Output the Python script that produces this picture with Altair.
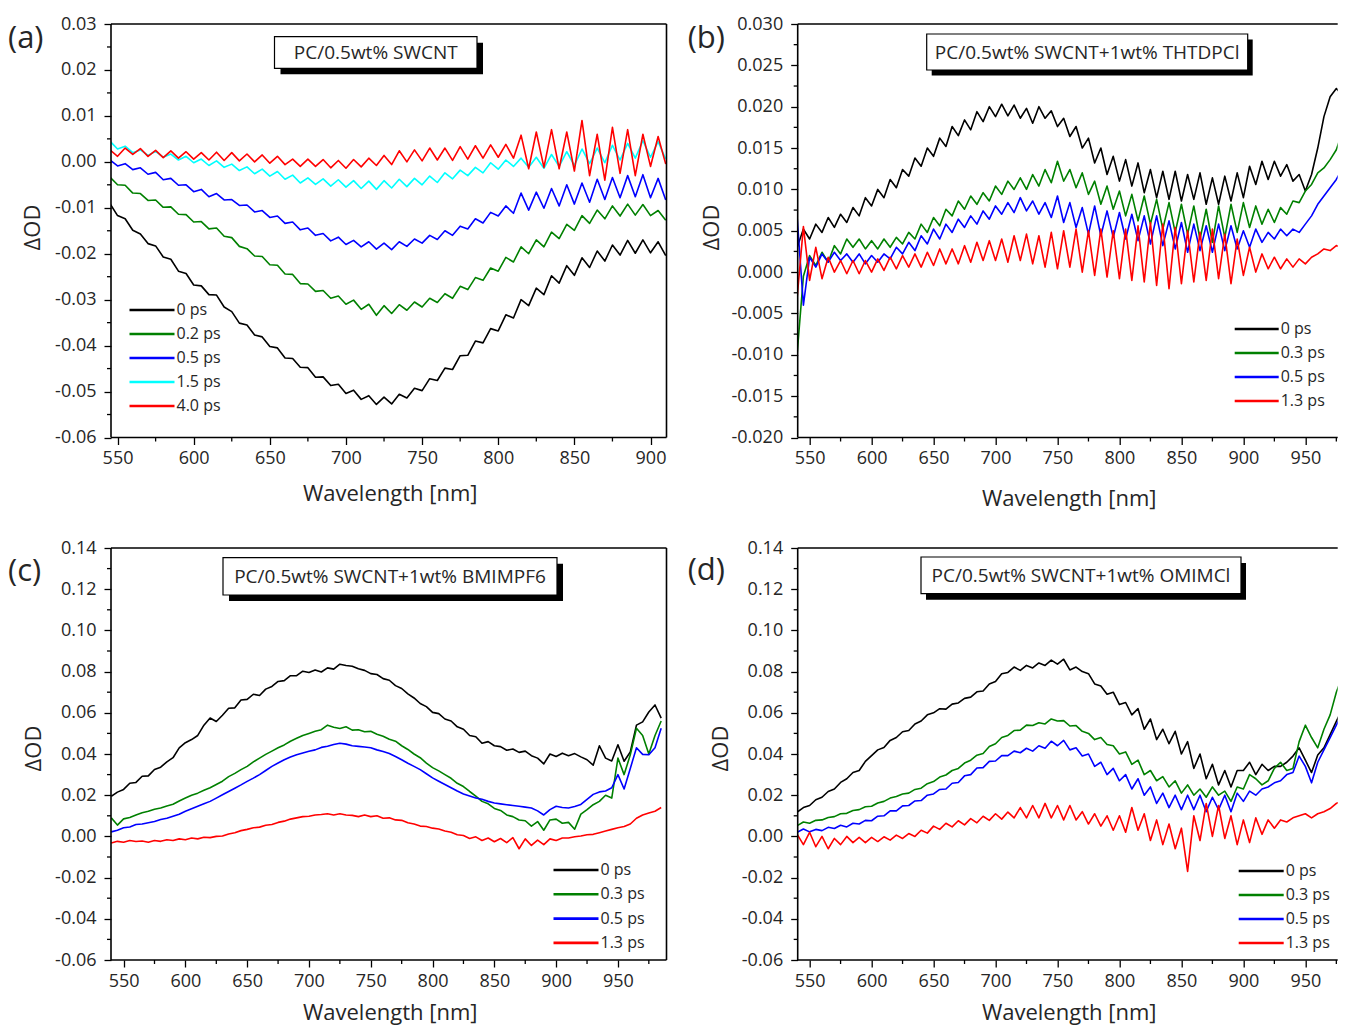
import altair as alt
import pandas as pd

FONT = "Open Sans"
TXT = "#262626"

# ---------------- Panel (a): PC/0.5wt% SWCNT ----------------
wl_a = list(range(545, 911, 5))
names_a = ["0 ps", "0.2 ps", "0.5 ps", "1.5 ps", "4.0 ps"]
colors_a = ["#000000", "#008000", "#0000ff", "#00ffff", "#ff0000"]
a_0ps = [-0.0091, -0.0117, -0.0124, -0.0149, -0.0157, -0.0178, -0.0183, -0.0207, -0.0212, -0.0238,
         -0.0243, -0.0268, -0.0270, -0.0289, -0.0290, -0.0316, -0.0326, -0.0351, -0.0355, -0.0377,
         -0.0381, -0.0402, -0.0405, -0.0427, -0.0428, -0.0447, -0.0448, -0.0469, -0.0468, -0.0487,
         -0.0484, -0.0504, -0.0497, -0.0517, -0.0509, -0.0528, -0.0512, -0.0527, -0.0506, -0.0514,
         -0.0493, -0.0498, -0.0472, -0.0476, -0.0449, -0.0452, -0.0422, -0.0421, -0.0390, -0.0394,
         -0.0363, -0.0368, -0.0333, -0.0340, -0.0300, -0.0313, -0.0275, -0.0289, -0.0248, -0.0264,
         -0.0226, -0.0247, -0.0209, -0.0230, -0.0194, -0.0216, -0.0181, -0.0203, -0.0171, -0.0199,
         -0.0170, -0.0198, -0.0174, -0.0204]
a_02ps = [-0.0033, -0.0050, -0.0051, -0.0068, -0.0069, -0.0084, -0.0083, -0.0099, -0.0098, -0.0114,
          -0.0115, -0.0131, -0.0130, -0.0146, -0.0144, -0.0162, -0.0165, -0.0184, -0.0189, -0.0205,
          -0.0206, -0.0224, -0.0225, -0.0244, -0.0245, -0.0265, -0.0266, -0.0282, -0.0280, -0.0297,
          -0.0292, -0.0310, -0.0301, -0.0321, -0.0310, -0.0334, -0.0313, -0.0330, -0.0311, -0.0323,
          -0.0305, -0.0316, -0.0297, -0.0306, -0.0287, -0.0297, -0.0271, -0.0278, -0.0252, -0.0258,
          -0.0231, -0.0238, -0.0208, -0.0218, -0.0185, -0.0200, -0.0170, -0.0185, -0.0153, -0.0167,
          -0.0136, -0.0149, -0.0117, -0.0134, -0.0105, -0.0124, -0.0096, -0.0118, -0.0092, -0.0116,
          -0.0093, -0.0117, -0.0106, -0.0127]
a_05ps = [0.0004, -0.0009, -0.0004, -0.0017, -0.0013, -0.0027, -0.0023, -0.0039, -0.0036, -0.0051,
          -0.0050, -0.0065, -0.0060, -0.0076, -0.0069, -0.0083, -0.0082, -0.0095, -0.0094, -0.0109,
          -0.0106, -0.0121, -0.0118, -0.0134, -0.0131, -0.0148, -0.0144, -0.0160, -0.0156, -0.0172,
          -0.0164, -0.0180, -0.0171, -0.0185, -0.0174, -0.0190, -0.0177, -0.0191, -0.0174, -0.0184,
          -0.0168, -0.0177, -0.0160, -0.0169, -0.0150, -0.0160, -0.0140, -0.0146, -0.0124, -0.0133,
          -0.0110, -0.0118, -0.0096, -0.0112, -0.0068, -0.0105, -0.0066, -0.0101, -0.0058, -0.0096,
          -0.0050, -0.0092, -0.0046, -0.0088, -0.0038, -0.0082, -0.0034, -0.0078, -0.0030, -0.0076,
          -0.0028, -0.0078, -0.0036, -0.0083]
a_15ps = [0.0045, 0.0028, 0.0034, 0.0020, 0.0026, 0.0014, 0.0023, 0.0010, 0.0017, 0.0004,
          0.0012, -0.0002, 0.0006, -0.0008, 0.0002, -0.0012, -0.0005, -0.0019, -0.0011, -0.0026,
          -0.0016, -0.0031, -0.0021, -0.0038, -0.0029, -0.0046, -0.0035, -0.0049, -0.0037, -0.0053,
          -0.0039, -0.0055, -0.0041, -0.0058, -0.0042, -0.0060, -0.0041, -0.0057, -0.0038, -0.0054,
          -0.0036, -0.0050, -0.0031, -0.0045, -0.0024, -0.0037, -0.0018, -0.0030, -0.0012, -0.0024,
          -0.0002, -0.0016, 0.0004, -0.0010, 0.0008, -0.0012, 0.0010, -0.0014, 0.0016, -0.0010,
          0.0022, -0.0008, 0.0028, -0.0004, 0.0030, -0.0002, 0.0036, 0.0004, 0.0040, 0.0008,
          0.0046, 0.0010, 0.0044, 0.0006]
a_40ps = [0.0026, 0.0012, 0.0030, 0.0016, 0.0029, 0.0012, 0.0025, 0.0009, 0.0024, 0.0008,
          0.0022, 0.0006, 0.0020, 0.0004, 0.0021, 0.0003, 0.0020, 0.0002, 0.0017, 0.0000,
          0.0015, -0.0003, 0.0012, -0.0006, 0.0006, -0.0010, 0.0006, -0.0010, 0.0005, -0.0013,
          0.0003, -0.0014, 0.0005, -0.0011, 0.0008, -0.0008, 0.0014, -0.0006, 0.0024, 0.0000,
          0.0026, 0.0002, 0.0030, 0.0004, 0.0030, 0.0003, 0.0033, 0.0006, 0.0035, 0.0008,
          0.0037, 0.0010, 0.0038, 0.0008, 0.0058, -0.0015, 0.0065, -0.0012, 0.0070, -0.0015,
          0.0065, -0.0020, 0.0090, -0.0030, 0.0060, -0.0040, 0.0075, -0.0025, 0.0070, -0.0030,
          0.0060, -0.0010, 0.0055, -0.0005]

# ---------------- Panels (b), (c), (d) ----------------
wl_bcd = list(range(540, 986, 5))
names_bcd = ["0 ps", "0.3 ps", "0.5 ps", "1.3 ps"]
colors_bcd = ["#000000", "#008000", "#0000ff", "#ff0000"]

b_0ps = [0.0030, 0.0052, 0.0040, 0.0058, 0.0048, 0.0066, 0.0054, 0.0070, 0.0060, 0.0078,
         0.0068, 0.0090, 0.0080, 0.0100, 0.0090, 0.0112, 0.0102, 0.0124, 0.0116, 0.0138,
         0.0128, 0.0150, 0.0140, 0.0162, 0.0152, 0.0176, 0.0165, 0.0184, 0.0172, 0.0194,
         0.0182, 0.0200, 0.0188, 0.0203, 0.0189, 0.0202, 0.0186, 0.0198, 0.0180, 0.0200,
         0.0186, 0.0195, 0.0176, 0.0186, 0.0164, 0.0176, 0.0150, 0.0162, 0.0132, 0.0150,
         0.0118, 0.0140, 0.0110, 0.0136, 0.0104, 0.0132, 0.0096, 0.0124, 0.0090, 0.0122,
         0.0088, 0.0122, 0.0086, 0.0118, 0.0088, 0.0120, 0.0082, 0.0114, 0.0082, 0.0116,
         0.0086, 0.0120, 0.0090, 0.0128, 0.0106, 0.0134, 0.0112, 0.0134, 0.0116, 0.0130,
         0.0110, 0.0118, 0.0098, 0.0118, 0.0150, 0.0188, 0.0212, 0.0222, 0.0214, 0.0240]
b_03ps = [-0.0098, -0.0005, 0.0020, 0.0008, 0.0024, 0.0012, 0.0032, 0.0022, 0.0040, 0.0030,
          0.0040, 0.0028, 0.0038, 0.0028, 0.0040, 0.0030, 0.0042, 0.0034, 0.0048, 0.0040,
          0.0058, 0.0048, 0.0066, 0.0056, 0.0076, 0.0068, 0.0086, 0.0076, 0.0092, 0.0082,
          0.0096, 0.0086, 0.0104, 0.0094, 0.0110, 0.0100, 0.0114, 0.0100, 0.0118, 0.0104,
          0.0124, 0.0108, 0.0134, 0.0110, 0.0124, 0.0102, 0.0120, 0.0094, 0.0110, 0.0082,
          0.0104, 0.0076, 0.0098, 0.0068, 0.0094, 0.0062, 0.0092, 0.0058, 0.0088, 0.0052,
          0.0084, 0.0048, 0.0082, 0.0046, 0.0080, 0.0040, 0.0076, 0.0036, 0.0080, 0.0042,
          0.0082, 0.0048, 0.0084, 0.0054, 0.0080, 0.0058, 0.0076, 0.0060, 0.0078, 0.0070,
          0.0086, 0.0084, 0.0098, 0.0106, 0.0120, 0.0126, 0.0136, 0.0148, 0.0170, 0.0215]
b_05ps = [0.0065, -0.0040, 0.0018, 0.0006, 0.0022, 0.0012, 0.0024, 0.0014, 0.0022, 0.0012,
          0.0022, 0.0010, 0.0020, 0.0012, 0.0022, 0.0016, 0.0030, 0.0022, 0.0036, 0.0026,
          0.0044, 0.0034, 0.0052, 0.0040, 0.0058, 0.0048, 0.0064, 0.0054, 0.0068, 0.0058,
          0.0074, 0.0064, 0.0080, 0.0070, 0.0084, 0.0072, 0.0090, 0.0074, 0.0086, 0.0070,
          0.0084, 0.0066, 0.0092, 0.0060, 0.0084, 0.0054, 0.0078, 0.0046, 0.0080, 0.0044,
          0.0074, 0.0042, 0.0072, 0.0040, 0.0070, 0.0038, 0.0068, 0.0034, 0.0068, 0.0032,
          0.0062, 0.0028, 0.0060, 0.0024, 0.0058, 0.0026, 0.0056, 0.0024, 0.0058, 0.0026,
          0.0056, 0.0028, 0.0050, 0.0030, 0.0052, 0.0036, 0.0048, 0.0040, 0.0052, 0.0044,
          0.0052, 0.0048, 0.0058, 0.0068, 0.0082, 0.0092, 0.0102, 0.0112, 0.0126, 0.0155]
b_13ps = [-0.0030, 0.0055, -0.0010, 0.0030, -0.0008, 0.0018, 0.0000, 0.0014, -0.0002, 0.0014,
          -0.0002, 0.0014, 0.0000, 0.0016, 0.0002, 0.0018, 0.0004, 0.0020, 0.0006, 0.0022,
          0.0006, 0.0024, 0.0008, 0.0028, 0.0010, 0.0028, 0.0010, 0.0032, 0.0012, 0.0036,
          0.0014, 0.0038, 0.0014, 0.0040, 0.0012, 0.0044, 0.0014, 0.0046, 0.0010, 0.0044,
          0.0006, 0.0048, 0.0004, 0.0050, 0.0006, 0.0052, 0.0000, 0.0050, -0.0004, 0.0052,
          -0.0006, 0.0050, -0.0008, 0.0052, -0.0010, 0.0056, -0.0012, 0.0060, -0.0016, 0.0058,
          -0.0020, 0.0054, -0.0014, 0.0050, -0.0012, 0.0048, -0.0010, 0.0052, -0.0008, 0.0046,
          -0.0014, 0.0040, -0.0004, 0.0030, 0.0000, 0.0022, 0.0004, 0.0018, 0.0004, 0.0016,
          0.0006, 0.0016, 0.0010, 0.0018, 0.0022, 0.0028, 0.0026, 0.0032, 0.0030, 0.0034]

c_0ps = [0.0195, 0.0215, 0.0228, 0.0258, 0.0262, 0.0292, 0.0294, 0.0325, 0.0336, 0.0362,
         0.0382, 0.0430, 0.0455, 0.0470, 0.0490, 0.0540, 0.0575, 0.0558, 0.0588, 0.0622,
         0.0624, 0.0662, 0.0665, 0.0690, 0.0684, 0.0715, 0.0728, 0.0752, 0.0756, 0.0780,
         0.0780, 0.0802, 0.0796, 0.0808, 0.0798, 0.0818, 0.0812, 0.0836, 0.0830, 0.0826,
         0.0814, 0.0806, 0.0790, 0.0786, 0.0766, 0.0758, 0.0732, 0.0718, 0.0692, 0.0672,
         0.0645, 0.0630, 0.0602, 0.0596, 0.0570, 0.0560, 0.0532, 0.0520, 0.0490, 0.0484,
         0.0452, 0.0460, 0.0440, 0.0436, 0.0418, 0.0424, 0.0408, 0.0414, 0.0392, 0.0380,
         0.0352, 0.0400, 0.0388, 0.0404, 0.0392, 0.0402, 0.0386, 0.0372, 0.0346, 0.0440,
         0.0380, 0.0366, 0.0445, 0.0365, 0.0410, 0.0540, 0.0556, 0.0604, 0.0638, 0.0574]
c_03ps = [0.0090, 0.0055, 0.0085, 0.0092, 0.0104, 0.0115, 0.0122, 0.0132, 0.0138, 0.0148,
          0.0156, 0.0172, 0.0186, 0.0200, 0.0210, 0.0224, 0.0236, 0.0252, 0.0268, 0.0290,
          0.0306, 0.0324, 0.0340, 0.0362, 0.0380, 0.0398, 0.0414, 0.0430, 0.0444, 0.0462,
          0.0476, 0.0490, 0.0500, 0.0510, 0.0518, 0.0540, 0.0530, 0.0524, 0.0532, 0.0516,
          0.0518, 0.0508, 0.0510, 0.0496, 0.0486, 0.0472, 0.0462, 0.0440, 0.0422, 0.0400,
          0.0382, 0.0356, 0.0334, 0.0318, 0.0300, 0.0282, 0.0258, 0.0242, 0.0218, 0.0196,
          0.0170, 0.0158, 0.0136, 0.0126, 0.0104, 0.0096, 0.0080, 0.0076, 0.0050, 0.0072,
          0.0030, 0.0080, 0.0084, 0.0064, 0.0068, 0.0035, 0.0108, 0.0130, 0.0154, 0.0170,
          0.0200, 0.0186, 0.0380, 0.0300, 0.0396, 0.0525, 0.0490, 0.0400, 0.0490, 0.0560]
c_05ps = [0.0022, 0.0030, 0.0042, 0.0046, 0.0058, 0.0060, 0.0066, 0.0072, 0.0082, 0.0088,
          0.0098, 0.0108, 0.0122, 0.0134, 0.0146, 0.0158, 0.0170, 0.0186, 0.0202, 0.0218,
          0.0234, 0.0250, 0.0267, 0.0283, 0.0300, 0.0320, 0.0340, 0.0356, 0.0372, 0.0385,
          0.0396, 0.0405, 0.0413, 0.0420, 0.0432, 0.0438, 0.0446, 0.0452, 0.0448, 0.0440,
          0.0437, 0.0434, 0.0430, 0.0420, 0.0412, 0.0402, 0.0388, 0.0372, 0.0355, 0.0340,
          0.0324, 0.0304, 0.0284, 0.0268, 0.0252, 0.0236, 0.0220, 0.0206, 0.0196, 0.0186,
          0.0180, 0.0170, 0.0162, 0.0158, 0.0154, 0.0150, 0.0146, 0.0142, 0.0138, 0.0124,
          0.0104, 0.0130, 0.0146, 0.0140, 0.0138, 0.0145, 0.0155, 0.0180, 0.0204, 0.0216,
          0.0220, 0.0236, 0.0300, 0.0230, 0.0330, 0.0430, 0.0398, 0.0396, 0.0430, 0.0525]
c_13ps = [-0.0032, -0.0024, -0.0028, -0.0020, -0.0025, -0.0022, -0.0028, -0.0020, -0.0024, -0.0016,
          -0.0020, -0.0012, -0.0016, -0.0008, -0.0012, -0.0004, -0.0006, 0.0000, 0.0002, 0.0012,
          0.0018, 0.0028, 0.0034, 0.0042, 0.0045, 0.0054, 0.0058, 0.0068, 0.0074, 0.0084,
          0.0090, 0.0096, 0.0098, 0.0104, 0.0106, 0.0110, 0.0104, 0.0110, 0.0104, 0.0102,
          0.0096, 0.0104, 0.0096, 0.0100, 0.0088, 0.0090, 0.0080, 0.0078, 0.0066, 0.0060,
          0.0050, 0.0048, 0.0040, 0.0036, 0.0026, 0.0020, 0.0008, 0.0004, -0.0010, -0.0002,
          -0.0020, -0.0008, -0.0026, -0.0010, -0.0030, -0.0006, -0.0060, -0.0012, -0.0044, -0.0018,
          -0.0040, -0.0012, -0.0020, -0.0008, -0.0008, -0.0002, 0.0002, 0.0008, 0.0010, 0.0018,
          0.0026, 0.0034, 0.0042, 0.0048, 0.0060, 0.0088, 0.0104, 0.0114, 0.0122, 0.0140]

d_0ps = [0.0118, 0.0140, 0.0150, 0.0178, 0.0190, 0.0218, 0.0230, 0.0262, 0.0280, 0.0310,
         0.0320, 0.0364, 0.0392, 0.0420, 0.0432, 0.0466, 0.0480, 0.0508, 0.0514, 0.0546,
         0.0560, 0.0590, 0.0600, 0.0620, 0.0618, 0.0642, 0.0648, 0.0670, 0.0676, 0.0702,
         0.0706, 0.0740, 0.0752, 0.0790, 0.0796, 0.0822, 0.0806, 0.0830, 0.0818, 0.0842,
         0.0830, 0.0856, 0.0836, 0.0860, 0.0808, 0.0822, 0.0800, 0.0790, 0.0740, 0.0730,
         0.0690, 0.0700, 0.0640, 0.0650, 0.0590, 0.0620, 0.0520, 0.0570, 0.0470, 0.0520,
         0.0450, 0.0510, 0.0400, 0.0460, 0.0330, 0.0400, 0.0280, 0.0350, 0.0250, 0.0320,
         0.0240, 0.0320, 0.0320, 0.0360, 0.0300, 0.0350, 0.0320, 0.0340, 0.0340, 0.0360,
         0.0390, 0.0430, 0.0370, 0.0310, 0.0395, 0.0430, 0.0494, 0.0558, 0.0623, 0.0574]
d_03ps = [0.0052, 0.0070, 0.0064, 0.0078, 0.0080, 0.0092, 0.0096, 0.0110, 0.0112, 0.0126,
          0.0130, 0.0144, 0.0146, 0.0162, 0.0170, 0.0186, 0.0194, 0.0206, 0.0210, 0.0228,
          0.0234, 0.0256, 0.0266, 0.0288, 0.0298, 0.0320, 0.0330, 0.0356, 0.0370, 0.0394,
          0.0402, 0.0436, 0.0450, 0.0480, 0.0490, 0.0514, 0.0516, 0.0540, 0.0538, 0.0552,
          0.0546, 0.0570, 0.0560, 0.0562, 0.0536, 0.0538, 0.0510, 0.0500, 0.0470, 0.0480,
          0.0446, 0.0440, 0.0400, 0.0410, 0.0350, 0.0370, 0.0300, 0.0320, 0.0270, 0.0290,
          0.0240, 0.0270, 0.0210, 0.0250, 0.0200, 0.0230, 0.0190, 0.0240, 0.0200, 0.0220,
          0.0170, 0.0240, 0.0230, 0.0300, 0.0280, 0.0250, 0.0270, 0.0330, 0.0360, 0.0320,
          0.0330, 0.0460, 0.0540, 0.0480, 0.0430, 0.0520, 0.0590, 0.0700, 0.0780, 0.0770]
d_05ps = [0.0020, 0.0036, 0.0022, 0.0034, 0.0028, 0.0044, 0.0038, 0.0054, 0.0046, 0.0064,
          0.0060, 0.0078, 0.0076, 0.0098, 0.0100, 0.0124, 0.0124, 0.0148, 0.0150, 0.0172,
          0.0174, 0.0200, 0.0206, 0.0228, 0.0230, 0.0258, 0.0262, 0.0294, 0.0300, 0.0332,
          0.0334, 0.0364, 0.0366, 0.0392, 0.0392, 0.0414, 0.0406, 0.0428, 0.0414, 0.0440,
          0.0428, 0.0462, 0.0440, 0.0466, 0.0420, 0.0430, 0.0390, 0.0400, 0.0340, 0.0360,
          0.0300, 0.0330, 0.0270, 0.0300, 0.0230, 0.0280, 0.0200, 0.0240, 0.0160, 0.0210,
          0.0140, 0.0200, 0.0130, 0.0200, 0.0130, 0.0200, 0.0120, 0.0190, 0.0130, 0.0200,
          0.0120, 0.0210, 0.0170, 0.0220, 0.0200, 0.0230, 0.0240, 0.0260, 0.0270, 0.0300,
          0.0310, 0.0390, 0.0340, 0.0260, 0.0360, 0.0420, 0.0480, 0.0540, 0.0600, 0.0570]
d_13ps = [0.0010, -0.0040, 0.0020, -0.0050, 0.0000, -0.0060, -0.0010, -0.0040, 0.0000, -0.0030,
          -0.0005, -0.0030, -0.0005, -0.0025, -0.0002, -0.0018, 0.0006, -0.0010, 0.0014, 0.0000,
          0.0030, 0.0016, 0.0050, 0.0034, 0.0064, 0.0046, 0.0076, 0.0056, 0.0086, 0.0066,
          0.0098, 0.0078, 0.0110, 0.0084, 0.0118, 0.0090, 0.0140, 0.0090, 0.0150, 0.0090,
          0.0160, 0.0090, 0.0150, 0.0080, 0.0150, 0.0080, 0.0120, 0.0060, 0.0110, 0.0050,
          0.0100, 0.0030, 0.0100, 0.0020, 0.0140, 0.0030, 0.0110, -0.0020, 0.0080, -0.0040,
          0.0060, -0.0060, 0.0040, -0.0170, 0.0100, -0.0020, 0.0160, 0.0000, 0.0150, -0.0010,
          0.0100, -0.0040, 0.0080, -0.0030, 0.0090, 0.0010, 0.0080, 0.0040, 0.0080, 0.0070,
          0.0090, 0.0100, 0.0110, 0.0090, 0.0110, 0.0120, 0.0135, 0.0160, 0.0175, 0.0170]

# ---------------- axis tick values ----------------
x_major_a = [550, 600, 650, 700, 750, 800, 850, 900]
x_minor_a = [575, 625, 675, 725, 775, 825, 875]
x_major_bcd = [550, 600, 650, 700, 750, 800, 850, 900, 950]
x_minor_bcd = [575, 625, 675, 725, 775, 825, 875, 925, 975]
y_major_a = [-0.06, -0.05, -0.04, -0.03, -0.02, -0.01, 0.0, 0.01, 0.02, 0.03]
y_minor_a = [-0.055, -0.045, -0.035, -0.025, -0.015, -0.005, 0.005, 0.015, 0.025]
y_major_b = [-0.02, -0.015, -0.01, -0.005, 0.0, 0.005, 0.01, 0.015, 0.02, 0.025, 0.03]
y_minor_b = [-0.0175, -0.0125, -0.0075, -0.0025, 0.0025, 0.0075, 0.0125, 0.0175, 0.0225, 0.0275]
y_major_cd = [-0.06, -0.04, -0.02, 0.0, 0.02, 0.04, 0.06, 0.08, 0.10, 0.12, 0.14]
y_minor_cd = [-0.05, -0.03, -0.01, 0.01, 0.03, 0.05, 0.07, 0.09, 0.11, 0.13]


def panel(tag, wl, names, colors, series, xdom, xmaj, xmin, ydom, ymaj, ymin, yfmt,
          W, H, title_text, box, shadow, leg, ytitle_x, ytitle_y, xtitle_y, tag_xy,
          right_frame):
    xs = alt.Scale(domain=xdom, nice=False, zero=False)
    ys = alt.Scale(domain=ydom, nice=False, zero=False)
    xaxis = alt.Axis(values=xmaj, format="d", title="Wavelength [nm]", grid=False, domain=False,
                     tickSize=7, tickWidth=1.3, tickColor="black", labelFont=FONT,
                     labelFontSize=18, labelColor=TXT, labelPadding=14, labelBaseline="middle",
                     labelFlush=False, labelOverlap=False, titleFont=FONT, titleFontSize=22,
                     titleFontWeight="normal", titleColor=TXT, titleY=xtitle_y,
                     titleX=W / 2 + 1, titleBaseline="middle", titleAlign="center")
    yaxis = alt.Axis(values=ymaj, title="ΔOD", grid=False, domain=False,
                     labelExpr=f"replace(format(datum.value, '{yfmt}'), '\u2212', '-')",
                     tickSize=7, tickWidth=1.3, tickColor="black", labelFont=FONT,
                     labelFontSize=18, labelColor=TXT, labelPadding=8, labelOverlap=False,
                     labelFlush=False, titleFont=FONT, titleFontSize=22,
                     titleFontWeight="normal", titleColor=TXT, titleX=ytitle_x, titleY=ytitle_y,
                     titleAngle=270, titleAlign="center", titleBaseline="middle")
    X = alt.X("wl:Q", scale=xs, axis=xaxis)
    Y = alt.Y("od:Q", scale=ys, axis=yaxis)
    layers = []
    for name, col, vals in zip(names, colors, series):
        df = pd.DataFrame({"wl": wl, "od": vals})
        layers.append(
            alt.Chart(df).mark_line(color=col, strokeWidth=1.6, strokeJoin="round",
                                    clip=True).encode(x=X, y=Y)
        )
    base = alt.Chart(pd.DataFrame({"k": [0]}))
    # frame (right side of b/d lies outside the picture in the original)
    fr = dict(color="black", strokeWidth=1.6)
    layers.append(base.mark_rule(**fr).encode(x=alt.value(0), x2=alt.value(W), y=alt.value(0)))
    layers.append(base.mark_rule(**fr).encode(x=alt.value(0), x2=alt.value(W), y=alt.value(H)))
    layers.append(base.mark_rule(**fr).encode(y=alt.value(0), y2=alt.value(H), x=alt.value(0)))
    if right_frame:
        layers.append(base.mark_rule(**fr).encode(y=alt.value(0), y2=alt.value(H), x=alt.value(W)))
    # minor ticks (outside the frame)
    layers.append(
        alt.Chart(pd.DataFrame({"od": ymin})).mark_rule(color="black", strokeWidth=1.3).encode(
            y=Y, x=alt.value(-4), x2=alt.value(0))
    )
    layers.append(
        alt.Chart(pd.DataFrame({"wl": xmin})).mark_rule(color="black", strokeWidth=1.3).encode(
            x=X, y=alt.value(H), y2=alt.value(H + 4))
    )
    # title box with shadow
    layers.append(base.mark_rect(color="black").encode(
        x=alt.value(shadow[0]), x2=alt.value(shadow[1]), y=alt.value(shadow[2]), y2=alt.value(shadow[3])))
    layers.append(base.mark_rect(fill="white", stroke="black", strokeWidth=1.2).encode(
        x=alt.value(box[0]), x2=alt.value(box[1]), y=alt.value(box[2]), y2=alt.value(box[3])))
    layers.append(base.mark_text(font=FONT, fontSize=19, color=TXT, align="center", baseline="middle").encode(
        x=alt.value((box[0] + box[1]) / 2), y=alt.value((box[2] + box[3]) / 2 + 0.5), text=alt.value(title_text)))
    # panel tag
    layers.append(base.mark_text(font=FONT, fontSize=31, color=TXT, align="left", baseline="middle").encode(
        x=alt.value(tag_xy[0]), y=alt.value(tag_xy[1]), text=alt.value(tag)))
    # legend
    lx1, lx2, ly0, step = leg
    for i, (name, col) in enumerate(zip(names, colors)):
        yy = ly0 + i * step
        layers.append(base.mark_rule(color=col, strokeWidth=2.6).encode(
            x=alt.value(lx1), x2=alt.value(lx2), y=alt.value(yy)))
        layers.append(base.mark_text(font=FONT, fontSize=16, color=TXT, align="left", baseline="middle").encode(
            x=alt.value(lx2 + 2), y=alt.value(yy), text=alt.value(name)))
    return alt.layer(*layers).properties(width=W, height=H)


WA, HA = 555.5, 413.5
WB = 540
HC = 412

pa = panel("(a)", wl_a, names_a, colors_a, [a_0ps, a_02ps, a_05ps, a_15ps, a_40ps],
           [545.7, 910.5], x_major_a, x_minor_a, [-0.06, 0.03], y_major_a, y_minor_a, ".2f",
           WA, HA, "PC/0.5wt% SWCNT",
           (163.5, 366, 12.7, 44.3), (169.5, 372, 18.7, 50.3),
           (18.5, 63.5, 286, 24), -79, 203, 55.5, (-103, 15), True)
pb = panel("(b)", wl_bcd, names_bcd, colors_bcd, [b_0ps, b_03ps, b_05ps, b_13ps],
           [540.4, 976.1], x_major_bcd, x_minor_bcd, [-0.02, 0.03], y_major_b, y_minor_b, ".3f",
           WB, HA, "PC/0.5wt% SWCNT+1wt% THTDPCl",
           (129, 450, 10, 46), (134, 455, 15.5, 51.5),
           (437, 481, 305, 24), -86, 203, 61, (-110, 15), False)
pc = panel("(c)", wl_bcd, names_bcd, colors_bcd, [c_0ps, c_03ps, c_05ps, c_13ps],
           [539.8, 989.3], x_major_bcd, x_minor_bcd, [-0.06, 0.14], y_major_cd, y_minor_cd, ".2f",
           WA, HC, "PC/0.5wt% SWCNT+1wt% BMIMPF6",
           (112, 446, 9.7, 47), (118, 452, 15.7, 53),
           (442.5, 487.5, 322, 24.3), -78, 200, 52, (-103, 24), True)
pd_ = panel("(d)", wl_bcd, names_bcd, colors_bcd, [d_0ps, d_03ps, d_05ps, d_13ps],
            [540.4, 976.1], x_major_bcd, x_minor_bcd, [-0.06, 0.14], y_major_cd, y_minor_cd, ".2f",
            WB, HC, "PC/0.5wt% SWCNT+1wt% OMIMCl",
            (123.3, 443.3, 9, 45.7), (128.3, 448.3, 15, 51.7),
            (441, 486, 323, 24), -77, 200, 52, (-110, 23), False)

chart = alt.concat(pa, pb, pc, pd_, columns=2, bounds="flush",
                   spacing={"row": 110, "column": 130.7}).properties(
    padding={"left": 0, "top": 7, "right": 0, "bottom": 3},
    background="white",
).configure_view(strokeWidth=0, stroke=None)

chart.save("out.html", embed_options={"renderer": "svg", "actions": False})
